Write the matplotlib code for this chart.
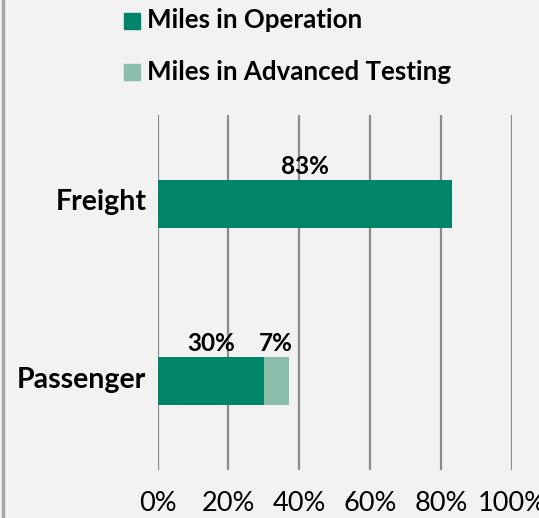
import matplotlib.pyplot as plt
import matplotlib.transforms as mtransforms
from matplotlib.patches import Rectangle
from matplotlib.lines import Line2D

# data
categories = ['Passenger', 'Freight']
operation = [30, 83]
testing = [7, 0]
series_names = ['Miles in Operation', 'Miles in Advanced Testing']
series_colors = ['#00856a', '#8dbdab']
tick_vals = [0, 20, 40, 60, 80, 100]
tick_labels = ['0%', '20%', '40%', '60%', '80%', '100%']

plt.rcParams['font.family'] = ['Lato', 'DejaVu Sans']

W, H = 539, 518
fig = plt.figure(figsize=(W / 100, H / 100), dpi=100)
fig.patch.set_facecolor('#f2f2f2')

# axes placed in pixel coords
left, right, top, bottom = 157.5, 512, 115, 470
ax = fig.add_axes([left / W, 1 - bottom / H, (right - left) / W, (bottom - top) / H])
ax.set_facecolor('none')

y = list(range(len(categories)))
ax.barh(y, operation, height=0.27, color=series_colors[0], zorder=3)
ax.barh(y, testing, left=operation, height=0.27, color=series_colors[1], zorder=3)

# data labels above each segment
for i in y:
    ax.text(operation[i] / 2, i + 0.21, f'{operation[i]}%', ha='center', va='center',
            fontsize=17.5, fontweight='bold', zorder=4)
    if testing[i] > 0:
        ax.text(operation[i] + testing[i] / 2, i + 0.21, f'{testing[i]}%', ha='center',
                va='center', fontsize=17.5, fontweight='bold', zorder=4)

ax.set_xlim(0, 100)
ax.set_ylim(-0.5, 1.5)
ax.set_xticks(tick_vals)
ax.set_xticklabels(tick_labels, fontsize=19.5)
ax.set_yticks(y)
ax.set_yticklabels(categories, fontsize=20.5, fontweight='bold')
ax.tick_params(axis='x', length=0, pad=15)
ax.tick_params(axis='y', length=0, pad=8)
# nudge category labels up a little
shift = mtransforms.ScaledTranslation(0, 0.04, fig.dpi_scale_trans)
for lbl in ax.get_yticklabels():
    lbl.set_transform(lbl.get_transform() + shift)
ax.grid(axis='x', color='#8c8c8c', linewidth=1.6, zorder=0)
for s in ax.spines.values():
    s.set_visible(False)

# legend drawn by hand
for k, (name, col) in enumerate(zip(series_names, series_colors)):
    yc = 20.5 + k * 51.5
    fig.patches.append(Rectangle((124 / W, 1 - (yc + 8) / H), 16 / W, 16 / H,
                                 transform=fig.transFigure, color=col, figure=fig))
    fig.text(147 / W, 1 - yc / H, name, fontsize=18.6, fontweight='bold',
             ha='left', va='center')

# grey border on the left
fig.lines.append(Line2D([2.5 / W, 2.5 / W], [0, 1], transform=fig.transFigure,
                        color='#a6a6a6', linewidth=2.5))

plt.savefig('out.png', dpi=100, facecolor=fig.get_facecolor())
